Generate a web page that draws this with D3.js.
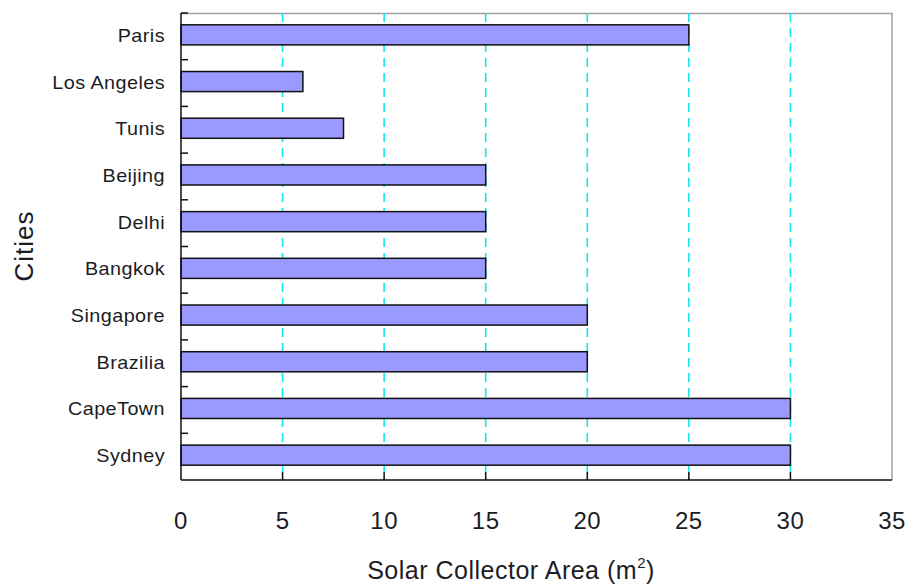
<!DOCTYPE html>
<html>
<head>
<meta charset="utf-8">
<script src="https://cdn.jsdelivr.net/npm/d3@7"></script>
<style>
  html, body { margin: 0; padding: 0; background: #fff; }
  svg { display: block; font-family: "Liberation Sans", Arial, sans-serif; }
</style>
</head>
<body>
<svg id="chart" width="908" height="585"></svg>
<script>
// Required solar collector area per city (m²)
const cities = ["Paris", "Los Angeles", "Tunis", "Beijing", "Delhi", "Bangkok",
                "Singapore", "Brazilia", "CapeTown", "Sydney"];
const areas = [25, 6, 8, 15, 15, 15, 20, 20, 30, 30];
const xTicks = [0, 5, 10, 15, 20, 25, 30, 35];
const gridValues = [5, 10, 15, 20, 25, 30];

const W = 908, H = 585;
const margin = { top: 13, right: 16, bottom: 105, left: 181 };
const innerW = W - margin.left - margin.right;
const innerH = H - margin.top - margin.bottom;

const svg = d3.select("#chart");
const g = svg.append("g").attr("transform", `translate(${margin.left},${margin.top})`);

const x = d3.scaleLinear().domain([0, 35]).range([0, innerW]);
const y = d3.scaleBand().domain(cities).range([0, innerH]).paddingInner(0.57).paddingOuter(0.285);
const yStep = d3.scaleBand().domain(cities).range([0, innerH]);

// frame: grey top/right edges
g.append("path")
  .attr("d", `M0,0.5H${innerW}V${innerH}`)
  .attr("fill", "none").attr("stroke", "#a0a0a0").attr("stroke-width", 1.5);

// dashed vertical grid
g.append("g").selectAll("line").data(gridValues).join("line")
  .attr("x1", d => x(d)).attr("x2", d => x(d))
  .attr("y1", 0).attr("y2", innerH)
  .attr("stroke", "#12e6f0").attr("stroke-width", 1.6)
  .attr("stroke-dasharray", "9,6");

// bars
g.append("g").selectAll("rect").data(cities).join("rect")
  .attr("x", x(0))
  .attr("y", (d) => y(d) - 1.5)
  .attr("width", (d, i) => x(areas[i]) - x(0))
  .attr("height", y.bandwidth())
  .attr("fill", "#9999ff")
  .attr("stroke", "#111").attr("stroke-width", 1.5);

// y axis: inward ticks at category boundaries
const yAxis = g.append("g");
yAxis.append("line").attr("x1", 0).attr("x2", 0).attr("y1", 0).attr("y2", innerH)
  .attr("stroke", "#111").attr("stroke-width", 1.5);
yAxis.selectAll("line.tick").data(cities).join("line").attr("class", "tick")
  .attr("x1", 0).attr("x2", 7)
  .attr("y1", d => yStep(d)).attr("y2", d => yStep(d))
  .attr("stroke", "#111").attr("stroke-width", 1.5);
// category labels, slightly widened glyphs
yAxis.selectAll("text").data(cities).join("text")
  .attr("transform", d => `translate(-16,${yStep(d) + yStep.bandwidth() / 2 - 1}) scale(1.1,1)`)
  .attr("dy", "0.36em")
  .attr("text-anchor", "end")
  .attr("font-size", 18)
  .attr("letter-spacing", "0.4px")
  .attr("fill", "#1c1c24")
  .text(d => d);

// x axis
const xAxis = g.append("g").attr("transform", `translate(0,${innerH})`);
xAxis.append("line").attr("x1", 0).attr("x2", innerW)
  .attr("stroke", "#111").attr("stroke-width", 1.5);
xAxis.selectAll("line.tick").data(gridValues).join("line").attr("class", "tick")
  .attr("x1", d => x(d)).attr("x2", d => x(d))
  .attr("y1", 0).attr("y2", -8)
  .attr("stroke", "#111").attr("stroke-width", 1.5);
xAxis.selectAll("text").data(xTicks).join("text")
  .attr("x", d => x(d))
  .attr("y", 49)
  .attr("text-anchor", "middle")
  .attr("font-size", 24)
  .attr("letter-spacing", "0.5px")
  .attr("fill", "#1c1c24")
  .text(d => d);

// axis titles
const xt = svg.append("text")
  .attr("x", 511).attr("y", 579)
  .attr("text-anchor", "middle")
  .attr("font-size", 25)
  .attr("letter-spacing", "0.5px")
  .attr("fill", "#1c1c24");
xt.append("tspan").text("Solar Collector Area (m");
xt.append("tspan").attr("font-size", 15).attr("dy", -11).text("2");
xt.append("tspan").attr("dy", 11).text(")");

svg.append("text")
  .attr("transform", "translate(33,246) rotate(-90)")
  .attr("text-anchor", "middle")
  .attr("font-size", 26)
  .attr("letter-spacing", "1px")
  .attr("fill", "#1c1c24")
  .text("Cities");
</script>
</body>
</html>
